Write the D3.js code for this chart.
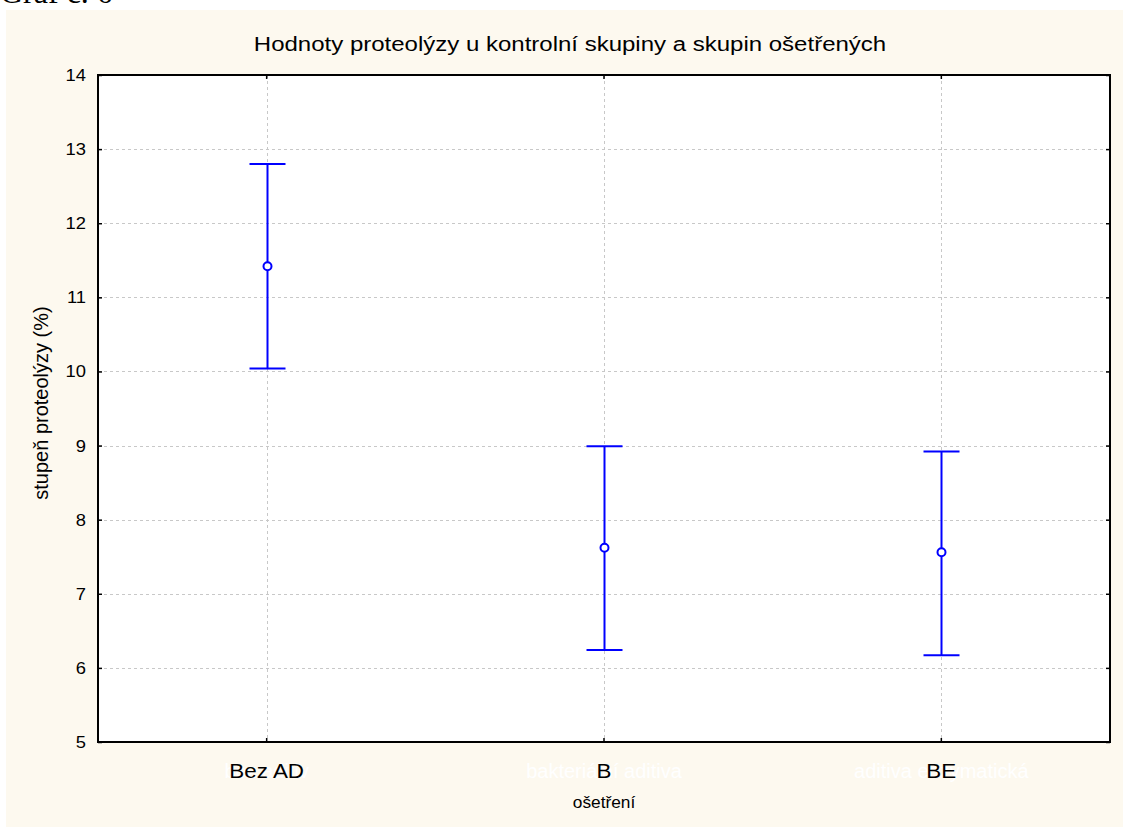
<!DOCTYPE html>
<html>
<head>
<meta charset="utf-8">
<script src="https://cdn.jsdelivr.net/npm/d3@7.9.0/dist/d3.min.js"></script>
<style>
  body { margin: 0; background: #fff; }
  svg text { font-family: "Liberation Sans", Arial, sans-serif; }
</style>
</head>
<body>
<svg id="chart" width="1123" height="827"></svg>
<script>
// data
const categories = ['Bez AD', 'B', 'BE'];
const hiddenLabels = ['bez aditiv', 'bakteriální aditiva', 'aditiva enzymatická']; // white text behind the ticks
const means = [11.42, 7.62, 7.56];
const upper = [12.80, 8.99, 8.92];
const lower = [10.04, 6.24, 6.17];
const yTicks = [5, 6, 7, 8, 9, 10, 11, 12, 13, 14];

const svg = d3.select('#chart');

// the original fonts look a bit wider than Arial, so stretch texts a little
function stretch(sel, k) {
  sel.each(function () {
    const w = this.getComputedTextLength();
    d3.select(this).attr('textLength', w * k).attr('lengthAdjust', 'spacingAndGlyphs');
  });
}

// page caption cut off at the top
svg.append('text')
  .attr('x', 0).attr('y', 3)
  .style('font-family', '"Liberation Serif", "Times New Roman", serif')
  .style('font-size', '32px')
  .text('Graf č. 6');

// cream panel
svg.append('rect')
  .attr('x', 6).attr('y', 10)
  .attr('width', 1123 - 6).attr('height', 827 - 10)
  .attr('fill', '#fdf9ef');

const margin = { left: 98, right: 1110, top: 75, bottom: 742 };

const x = d3.scaleBand().domain(categories).range([margin.left, margin.right]).padding(0);
const y = d3.scaleLinear().domain([5, 14]).range([margin.bottom, margin.top]);
const cx = d => x(d) + x.bandwidth() / 2;

// plot area
svg.append('rect')
  .attr('x', margin.left).attr('y', margin.top)
  .attr('width', margin.right - margin.left).attr('height', margin.bottom - margin.top)
  .attr('fill', '#fff');

// grid
const grid = svg.append('g').attr('stroke', '#c8c8c8').attr('stroke-width', 1).attr('stroke-dasharray', '3,3');
grid.selectAll('line.h').data(yTicks.slice(1, -1)).join('line')
  .attr('x1', margin.left).attr('x2', margin.right)
  .attr('y1', d => Math.round(y(d)) + 0.5).attr('y2', d => Math.round(y(d)) + 0.5);
grid.selectAll('line.v').data(categories).join('line')
  .attr('y1', margin.top).attr('y2', margin.bottom)
  .attr('x1', d => Math.round(cx(d)) + 0.5).attr('x2', d => Math.round(cx(d)) + 0.5);

// axes (ticks inward)
const yAxisL = d3.axisLeft(y).tickValues(yTicks).tickSize(-4).tickPadding(12);
const yAxisR = d3.axisRight(y).tickValues(yTicks).tickSize(-4).tickFormat('');
const xAxisB = d3.axisBottom(x).tickSize(-4).tickFormat('');
const xAxisT = d3.axisTop(x).tickSize(-4).tickFormat('');

function styleAxis(g) {
  g.select('.domain').remove();
  g.selectAll('.tick line').attr('stroke', '#000').attr('stroke-width', 1.5);
  g.selectAll('.tick text').attr('fill', '#000').style('font-size', '17px');
}
const yl = svg.append('g').attr('transform', `translate(${margin.left},0)`).call(yAxisL).call(styleAxis);
stretch(yl.selectAll('.tick text'), 1.08);
svg.append('g').attr('transform', `translate(${margin.right},0)`).call(yAxisR).call(styleAxis);
svg.append('g').attr('transform', `translate(0,${margin.bottom})`).call(xAxisB).call(styleAxis);
svg.append('g').attr('transform', `translate(0,${margin.top})`).call(xAxisT).call(styleAxis);

// frame
svg.append('rect')
  .attr('x', margin.left).attr('y', margin.top)
  .attr('width', margin.right - margin.left).attr('height', margin.bottom - margin.top)
  .attr('fill', 'none').attr('stroke', '#000').attr('stroke-width', 2);

// x labels: faint white text behind, then the category
svg.selectAll('text.hidden').data(hiddenLabels).join('text')
  .attr('class', 'hidden')
  .attr('x', (d, i) => cx(categories[i])).attr('y', 778)
  .attr('text-anchor', 'middle').attr('fill', '#ffffff')
  .style('font-size', '20px').text(d => d);
const catText = svg.selectAll('text.cat').data(categories).join('text')
  .attr('class', 'cat')
  .attr('x', d => cx(d)).attr('y', 778)
  .attr('text-anchor', 'middle').attr('fill', '#000')
  .style('font-size', '20px').text(d => d);
stretch(catText, 1.12);

// error bars
const bars = svg.append('g').attr('stroke', '#0000ff').attr('stroke-width', 2).attr('fill', 'none');
categories.forEach((c, i) => {
  const px = Math.round(cx(c)) + 0.5;
  bars.append('line').attr('x1', px).attr('x2', px).attr('y1', y(upper[i])).attr('y2', y(lower[i]));
  bars.append('line').attr('x1', px - 18).attr('x2', px + 18).attr('y1', y(upper[i])).attr('y2', y(upper[i]));
  bars.append('line').attr('x1', px - 18).attr('x2', px + 18).attr('y1', y(lower[i])).attr('y2', y(lower[i]));
  bars.append('circle').attr('cx', px).attr('cy', y(means[i])).attr('r', 4).attr('fill', '#fff');
});

// titles
const title = svg.append('text')
  .attr('x', 570).attr('y', 51).attr('text-anchor', 'middle')
  .style('font-size', '20px')
  .text('Hodnoty proteolýzy u kontrolní skupiny a skupin ošetřených');
stretch(title, 1.2);

const xl = svg.append('text')
  .attr('x', 604).attr('y', 808).attr('text-anchor', 'middle')
  .style('font-size', '16px')
  .text('ošetření');
stretch(xl, 1.08);

svg.append('text')
  .attr('transform', 'translate(48,403) rotate(-90)')
  .attr('text-anchor', 'middle')
  .style('font-size', '20px')
  .text('stupeň proteolýzy (%)');
</script>
</body>
</html>
